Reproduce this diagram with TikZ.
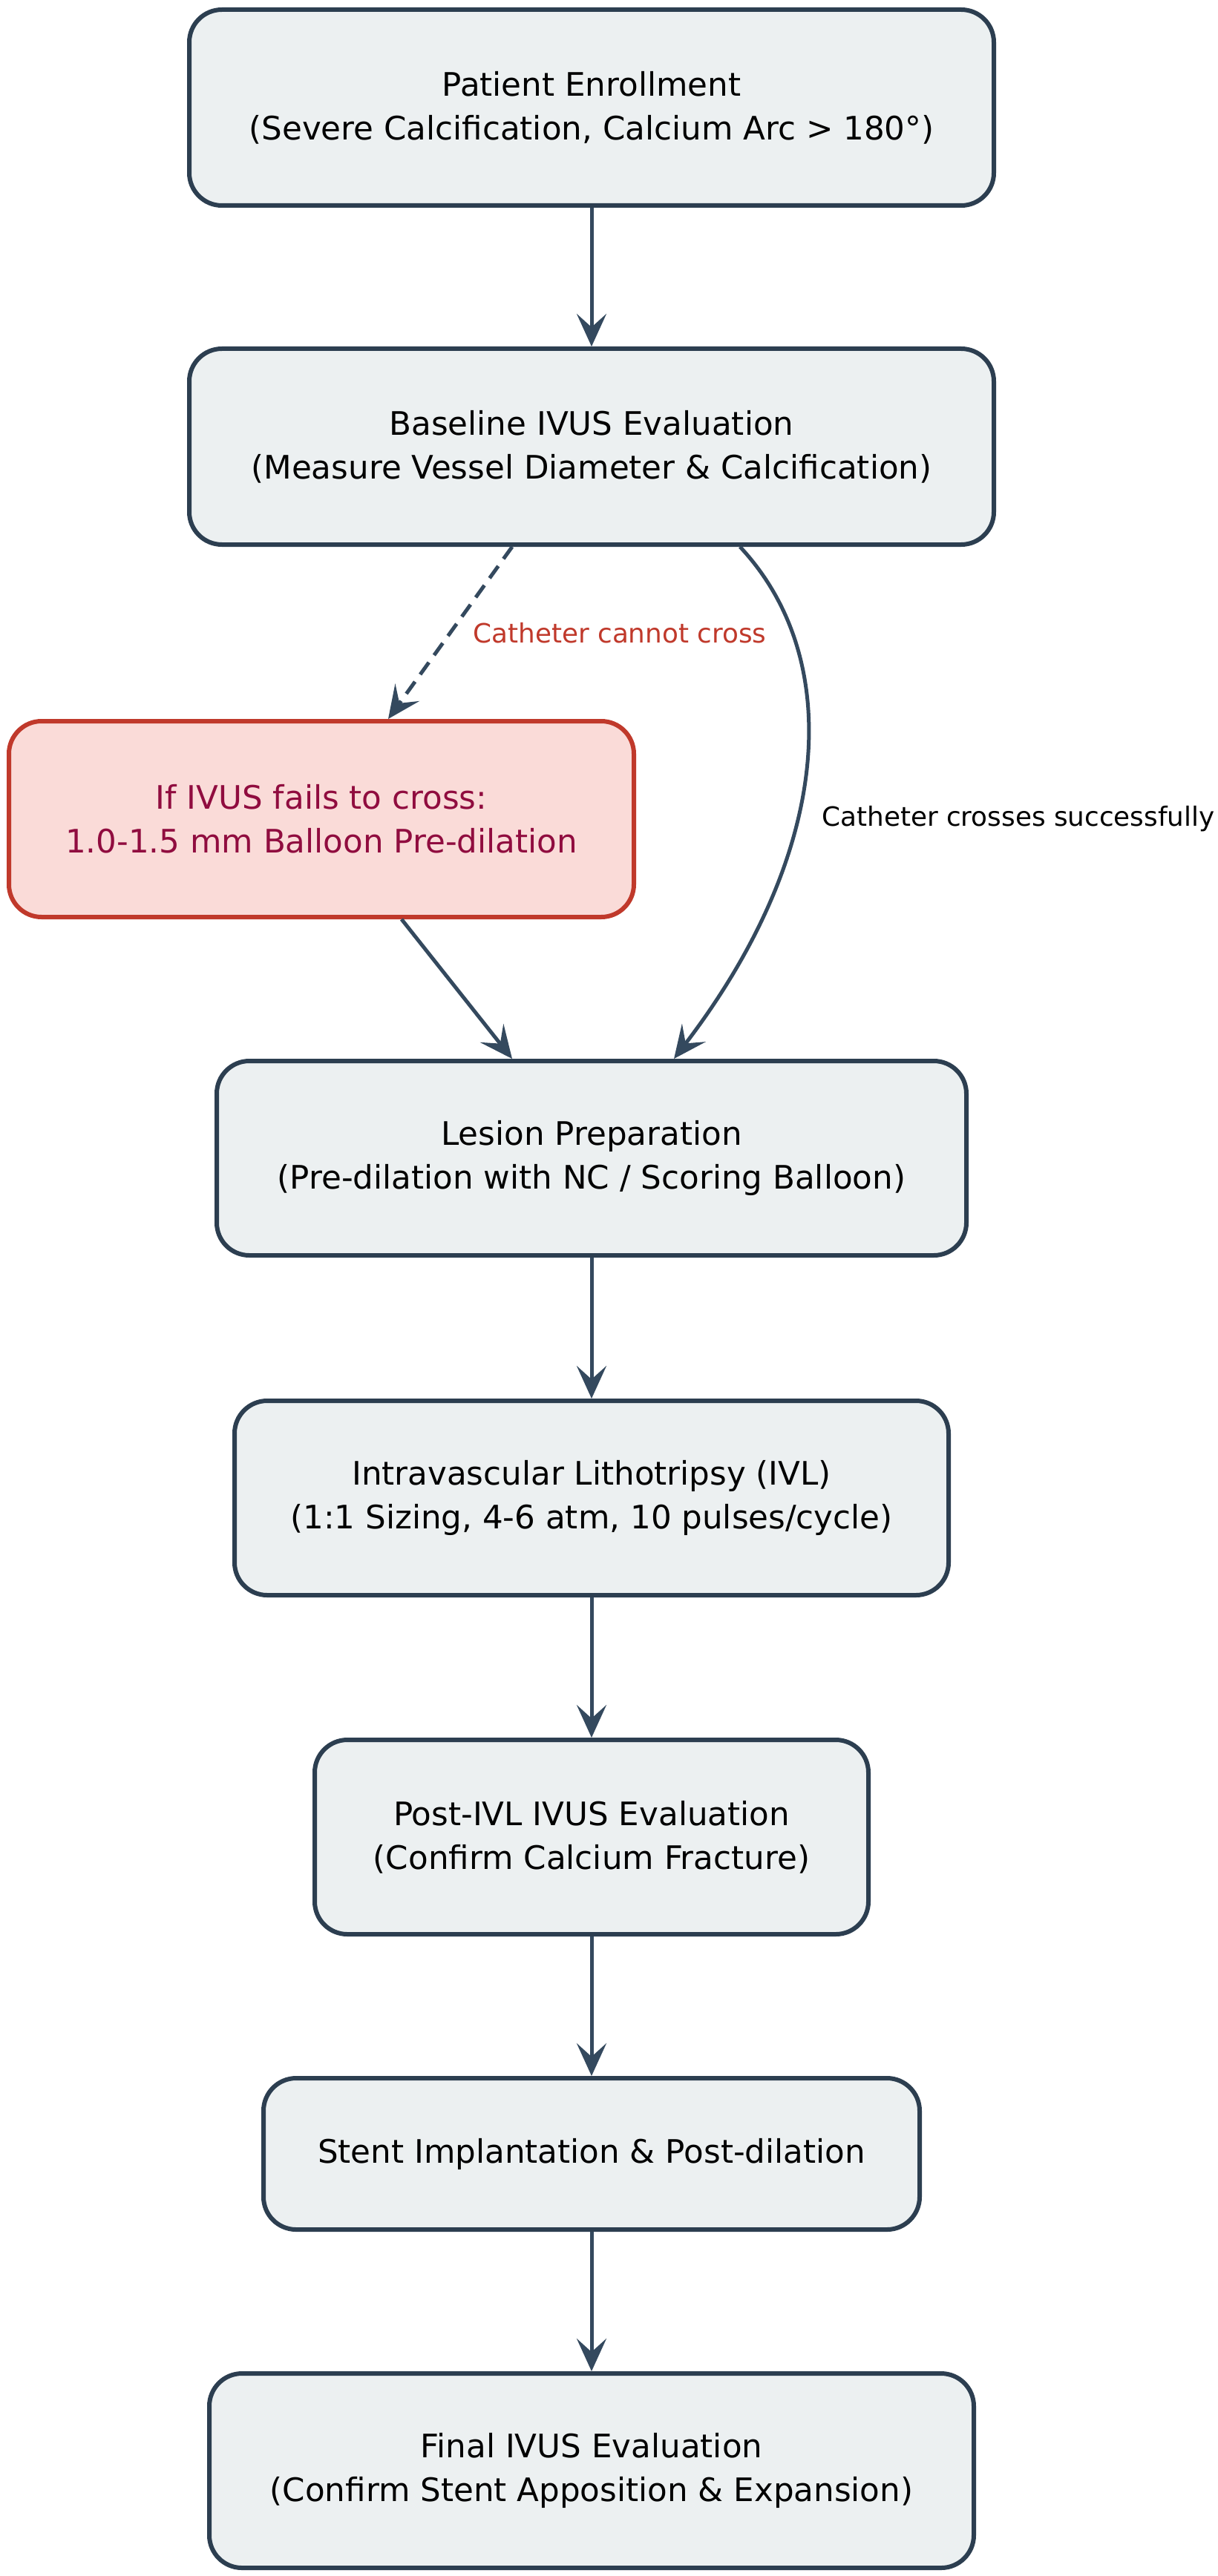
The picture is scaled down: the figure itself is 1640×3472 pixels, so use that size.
\documentclass[tikz,border=0pt]{standalone}
\usepackage{fontspec}
\setmainfont{DejaVu Sans}
\usetikzlibrary{arrows.meta}
\definecolor{boxfill}{HTML}{ECF0F1}
\definecolor{boxdraw}{HTML}{2C3E50}
\definecolor{arrowcol}{HTML}{34495E}
\definecolor{redfill}{HTML}{FADBD8}
\definecolor{reddraw}{HTML}{C0392B}
\definecolor{redtext}{HTML}{900C3F}
\tikzset{
  box/.style={draw=boxdraw, fill=boxfill, line width=3pt, rounded corners=22pt,
    align=center, text=black, inner sep=0pt,
    font=\fontsize{21.8}{29.5}\selectfont},
  redbox/.style={box, draw=reddraw, fill=redfill, text=redtext},
  conn/.style={draw=arrowcol, line width=2.5pt,
    -{Stealth[length=22pt,width=20pt,inset=9pt]}},
  lbl/.style={font=\fontsize{17.9}{21}\selectfont, inner sep=0pt}
}
\begin{document}
\begin{tikzpicture}[x=0.5pt,y=-0.5pt]
\useasboundingbox[fill=white] (0,0) rectangle (1640,3472);

\node[box, minimum width=542pt, minimum height=132pt] (b1) at (797,145)
  {Patient Enrollment\\(Severe Calcification, Calcium Arc > 180°)};
\node[box, minimum width=542pt, minimum height=132pt] (b2) at (797,602)
  {Baseline IVUS Evaluation\\(Measure Vessel Diameter \& Calcification)};
\node[redbox, minimum width=421pt, minimum height=132pt] (r) at (433,1104)
  {If IVUS fails to cross:\\1.0-1.5 mm Balloon Pre-dilation};
\node[box, minimum width=505pt, minimum height=131pt] (b3) at (797,1561)
  {Lesion Preparation\\(Pre-dilation with NC / Scoring Balloon)};
\node[box, minimum width=481pt, minimum height=131pt] (b4) at (797,2019)
  {Intravascular Lithotripsy (IVL)\\(1:1 Sizing, 4-6 atm, 10 pulses/cycle)};
\node[box, minimum width=373pt, minimum height=131pt] (b5) at (797,2476)
  {Post-IVL IVUS Evaluation\\(Confirm Calcium Fracture)};
\node[box, minimum width=442pt, minimum height=102pt] (b6) at (797,2903)
  {Stent Implantation \& Post-dilation};
\node[box, minimum width=515pt, minimum height=131pt] (b7) at (797,3330)
  {Final IVUS Evaluation\\(Confirm Stent Apposition \& Expansion)};

\draw[conn] (b1) -- (b2);
\draw[conn, dashed, dash pattern=on 10pt off 6pt]
  ([xshift=-53.5pt]b2.south) -- ([xshift=45pt]r.north);
\draw[conn] ([xshift=100pt]b2.south) .. controls (1140,890) and (1120,1150) .. ([xshift=55.5pt]b3.north);
\draw[conn] ([xshift=54pt]r.south) -- ([xshift=-53.5pt]b3.north);
\draw[conn] (b3) -- (b4);
\draw[conn] (b4) -- (b5);
\draw[conn] (b5) -- (b6);
\draw[conn] (b6) -- (b7);

\node[lbl, text=reddraw] (l1) at (835,853) {Catheter cannot cross};
\node[lbl, text=black] (l2) at (1372,1104) {Catheter crosses successfully};
\end{tikzpicture}
\end{document}
